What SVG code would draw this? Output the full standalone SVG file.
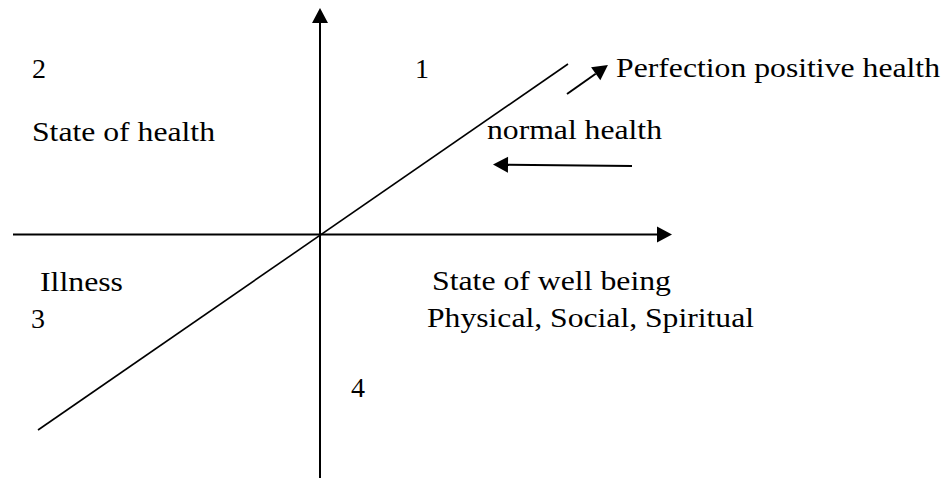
<svg xmlns="http://www.w3.org/2000/svg" width="949" height="478" viewBox="0 0 949 478">
<defs>
<style>
text{font-family:'Times New Roman','Liberation Serif',Tinos,'Nimbus Roman','Nimbus Roman No9 L',FreeSerif,Times,serif;font-size:28px;fill:#000}
.ax{stroke:#000;stroke-width:2;fill:none}
.thin{stroke:#000;stroke-width:1.6;fill:none}
</style>
<marker id="ah" markerUnits="userSpaceOnUse" markerWidth="16" markerHeight="16" refX="0" refY="8" orient="auto" overflow="visible">
<path d="M0,0 L15,8 L0,16 z" fill="#000"/>
</marker>
</defs>
<rect width="949" height="478" fill="#fff"/>
<g id="connectors">
<line class="ax" x1="320" y1="478" x2="320" y2="23" marker-end="url(#ah)"/>
<line class="ax" x1="13" y1="234.5" x2="657" y2="234.5" marker-end="url(#ah)"/>
<line class="thin" x1="38" y1="430" x2="568" y2="64"/>
<line class="ax" x1="567" y1="94" x2="595.7" y2="73.7" marker-end="url(#ah)"/>
<line class="ax" x1="632" y1="166" x2="508" y2="164.7" marker-end="url(#ah)"/>
</g>
<g id="labels">
<g id="q2"><text x="32" y="78">2</text></g>
<g id="q1"><text x="415" y="78">1</text></g>
<g id="perfection"><text x="616" y="77" textLength="324" lengthAdjust="spacingAndGlyphs">Perfection positive health</text></g>
<g id="state-health"><text x="32" y="141" textLength="183" lengthAdjust="spacingAndGlyphs">State of health</text></g>
<g id="normal-health"><text x="487" y="139" textLength="175" lengthAdjust="spacingAndGlyphs">normal health</text></g>
<g id="illness"><text x="40" y="291" textLength="83" lengthAdjust="spacingAndGlyphs">Illness</text></g>
<g id="q3"><text x="31" y="328">3</text></g>
<g id="well-being"><text x="432" y="290" textLength="239" lengthAdjust="spacingAndGlyphs">State of well being</text></g>
<g id="dimensions"><text x="427" y="327" textLength="327" lengthAdjust="spacingAndGlyphs">Physical, Social, Spiritual</text></g>
<g id="q4"><text x="351" y="397">4</text></g>
</g>
</svg>
